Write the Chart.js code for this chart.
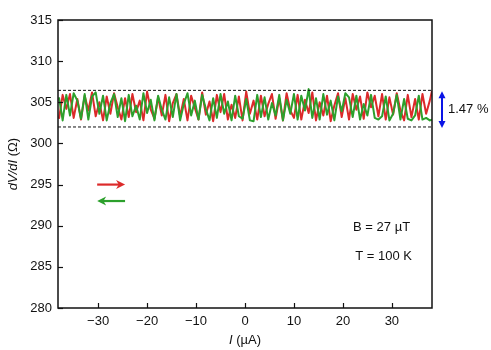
<!DOCTYPE html>
<html>
<head>
<meta charset="utf-8">
<script src="https://cdn.jsdelivr.net/npm/chart.js@4.4.1/dist/chart.umd.min.js"></script>
<style>
  html, body { margin: 0; padding: 0; background: #fff; }
  #wrap { width: 491px; height: 350px; }
</style>
</head>
<body>
<div id="wrap"><canvas id="c" width="491" height="350"></canvas></div>
<script>
// current sweep points (uA)
const current = [
  -38, -37.25, -36.5, -35.75, -35, -34.25, -33.5, -32.75, -32, -31.25,
  -30.5, -29.75, -29, -28.25, -27.5, -26.75, -26, -25.25, -24.5, -23.75,
  -23, -22.25, -21.5, -20.75, -20, -19.25, -18.5, -17.75, -17, -16.25,
  -15.5, -14.75, -14, -13.25, -12.5, -11.75, -11, -10.25, -9.5, -8.75,
  -8, -7.25, -6.5, -5.75, -5, -4.25, -3.5, -2.75, -2, -1.25,
  -0.5, 0.25, 1, 1.75, 2.5, 3.25, 4, 4.75, 5.5, 6.25,
  7, 7.75, 8.5, 9.25, 10, 10.75, 11.5, 12.25, 13, 13.75,
  14.5, 15.25, 16, 16.75, 17.5, 18.25, 19, 19.75, 20.5, 21.25,
  22, 22.75, 23.5, 24.25, 25, 25.75, 26.5, 27.25, 28, 28.75,
  29.5, 30.25, 31, 31.75, 32.5, 33.25, 34, 34.75, 35.5, 36.25,
  37, 37.75, 38.2
];

// dV/dI, sweep up (red)
const forward = [
  303.0, 305.9, 304.2, 306.0, 303.1, 305.4, 302.9, 305.8, 304.0, 306.2,
  303.3, 305.0, 302.8, 305.7, 303.6, 306.1, 304.4, 302.9, 305.5, 303.2,
  306.0, 303.8, 305.2, 302.8, 306.3, 304.1, 303.0, 305.6, 303.4, 305.9,
  302.7, 304.9, 306.0, 303.3, 305.4, 302.8, 305.8, 304.3, 302.9, 306.2,
  303.5, 305.1, 302.7, 305.9, 303.8, 306.0, 302.9, 304.7, 303.1, 305.7,
  302.8, 306.3, 303.6, 305.2, 302.9, 305.8, 303.3, 304.8, 306.0, 303.0,
  305.5, 302.8, 306.1, 304.0, 303.1, 305.9, 302.9, 305.3, 303.7, 306.2,
  302.8, 305.0, 303.4, 305.8, 302.7, 304.6, 306.1, 303.2, 305.5, 302.9,
  306.0, 304.1, 305.7, 303.0, 306.2, 304.4, 305.8, 303.3, 306.0, 302.9,
  305.6, 303.5, 306.1, 304.0, 302.8, 305.9, 303.2, 305.4, 302.9, 306.0,
  303.6, 305.2, 306.4
];

// dV/dI, sweep down (green)
const backward = [
  305.6, 302.8, 305.9, 303.4, 306.1, 305.2, 303.0, 306.0, 302.9, 305.7,
  306.2, 303.6, 305.8, 302.8, 304.9, 306.0, 303.2, 305.5, 302.7, 305.9,
  303.3, 304.6, 302.9, 306.1, 303.7, 305.3, 302.8, 305.8, 304.1, 302.9,
  305.6, 303.2, 306.0, 302.8, 304.8, 306.1, 303.4, 305.2, 302.9, 305.9,
  304.2, 302.8, 305.5, 303.1, 306.0, 303.6, 305.1, 302.8, 305.8, 303.3,
  303.0, 305.4, 302.8, 302.7, 305.9, 303.2, 305.6, 302.9, 304.9, 303.4,
  305.9, 302.8, 305.3, 303.6, 306.0, 302.9, 305.8, 304.0, 306.6, 303.1,
  305.5, 302.9, 306.0, 303.5, 305.2, 302.8, 305.7, 303.9, 306.1, 305.6,
  303.2, 305.8, 302.9, 304.8, 303.4, 305.9, 303.1, 302.9, 303.3, 305.7,
  302.8, 303.6, 305.9, 302.9, 305.4, 303.0, 302.8, 303.4, 305.8, 302.9,
  303.1, 302.8, 302.9
];

const xTicks = [-30, -20, -10, 0, 10, 20, 30];
const yTicks = [280, 285, 290, 295, 300, 305, 310, 315];
const xRange = [-38.2, 38.2];
const yRange = [280, 315];
const bandTop = 306.45;
const bandBottom = 302.0;
const bandLabel = '1.47 %';
const fieldLabel = 'B = 27 \u00b5T';
const tempLabel = 'T = 100 K';

const RED = '#dc2a2a';
const GREEN = '#2ca02c';
const FONT = '"Liberation Sans", Arial, sans-serif';

const pts = ys => ys.map((y, i) => ({ x: current[i], y }));

function arrow(ctx, x1, y1, x2, y2, color, head) {
  const dir = Math.sign(x2 - x1);
  ctx.strokeStyle = color;
  ctx.fillStyle = color;
  ctx.lineWidth = 2.2;
  ctx.beginPath();
  ctx.moveTo(x1, y1);
  ctx.lineTo(x2 - dir * head * 0.6, y2);
  ctx.stroke();
  ctx.beginPath();
  ctx.moveTo(x2, y2);
  ctx.lineTo(x2 - dir * head, y2 - head * 0.5);
  ctx.lineTo(x2 - dir * head * 0.7, y2);
  ctx.lineTo(x2 - dir * head, y2 + head * 0.5);
  ctx.closePath();
  ctx.fill();
}

// frame, ticks, arrows, texts and axis titles
const decor = {
  id: 'decor',
  afterDraw(chart) {
    const ctx = chart.ctx;
    const a = chart.chartArea;
    const xs = chart.scales.x, ys = chart.scales.y;
    ctx.save();

    ctx.strokeStyle = '#111';
    ctx.lineWidth = 1.5;
    ctx.strokeRect(a.left, a.top, a.right - a.left, a.bottom - a.top);

    ctx.lineWidth = 1.2;
    xTicks.forEach(v => {
      const px = Math.round(xs.getPixelForValue(v)) + 0.5;
      ctx.beginPath(); ctx.moveTo(px, a.bottom); ctx.lineTo(px, a.bottom - 5); ctx.stroke();
    });
    yTicks.forEach(v => {
      const py = Math.round(ys.getPixelForValue(v)) + 0.5;
      ctx.beginPath(); ctx.moveTo(a.left, py); ctx.lineTo(a.left + 5, py); ctx.stroke();
    });

    // sweep direction arrows
    arrow(ctx, xs.getPixelForValue(-30.2), ys.getPixelForValue(295),
          xs.getPixelForValue(-24.5), ys.getPixelForValue(295), RED, 9);
    arrow(ctx, xs.getPixelForValue(-24.5), ys.getPixelForValue(293),
          xs.getPixelForValue(-30.2), ys.getPixelForValue(293), GREEN, 9);

    // band size marker
    const bx = a.right + 10;
    const t = ys.getPixelForValue(bandTop) + 1, b = ys.getPixelForValue(bandBottom) + 1;
    ctx.strokeStyle = '#0a14e6'; ctx.fillStyle = '#0a14e6'; ctx.lineWidth = 2;
    ctx.beginPath(); ctx.moveTo(bx, t + 4); ctx.lineTo(bx, b - 4); ctx.stroke();
    ctx.beginPath(); ctx.moveTo(bx, t); ctx.lineTo(bx - 3.5, t + 7); ctx.lineTo(bx + 3.5, t + 7); ctx.closePath(); ctx.fill();
    ctx.beginPath(); ctx.moveTo(bx, b); ctx.lineTo(bx - 3.5, b - 7); ctx.lineTo(bx + 3.5, b - 7); ctx.closePath(); ctx.fill();

    ctx.fillStyle = '#111';
    ctx.font = '13px ' + FONT;
    ctx.textBaseline = 'middle';
    ctx.textAlign = 'left';
    ctx.fillText(bandLabel, bx + 6, (t + b) / 2);

    ctx.textAlign = 'center';
    ctx.fillText(fieldLabel, xs.getPixelForValue(27.9), ys.getPixelForValue(289.8));
    ctx.fillText(tempLabel, xs.getPixelForValue(28.3), ys.getPixelForValue(286.3));

    // x title: I (uA)
    const parts = [['italic 13px ' + FONT, 'I'], ['13px ' + FONT, ' (\u00b5A)']];
    let w = 0;
    parts.forEach(p => { ctx.font = p[0]; w += ctx.measureText(p[1]).width; });
    let x0 = (a.left + a.right) / 2 - w / 2;
    ctx.textAlign = 'left';
    parts.forEach(p => { ctx.font = p[0]; ctx.fillText(p[1], x0, 340); x0 += ctx.measureText(p[1]).width; });

    // y title: dV/dI (Ohm)
    const yparts = [['italic 13px ' + FONT, 'dV/dI'], ['13px ' + FONT, ' (\u03a9)']];
    w = 0;
    yparts.forEach(p => { ctx.font = p[0]; w += ctx.measureText(p[1]).width; });
    ctx.translate(13, (a.top + a.bottom) / 2);
    ctx.rotate(-Math.PI / 2);
    x0 = -w / 2;
    yparts.forEach(p => { ctx.font = p[0]; ctx.fillText(p[1], x0, 0); x0 += ctx.measureText(p[1]).width; });

    ctx.restore();
  }
};

const line = (data, color, order) => ({
  data: pts(data), borderColor: color, borderWidth: 2, borderJoinStyle: 'round',
  pointRadius: 0, tension: 0, order
});

const dashed = y => ({
  data: [{ x: xRange[0], y }, { x: xRange[1], y }],
  borderColor: '#111', borderWidth: 1, borderDash: [3, 2], pointRadius: 0, order: 0
});

new Chart(document.getElementById('c'), {
  type: 'line',
  data: {
    datasets: [
      line(forward, RED, 2),
      line(backward, GREEN, 1),
      dashed(bandTop),
      dashed(bandBottom)
    ]
  },
  options: {
    responsive: false,
    animation: false,
    layout: { padding: { top: 20, right: 59, left: 0, bottom: 0 } },
    plugins: { legend: { display: false }, tooltip: { enabled: false } },
    scales: {
      x: {
        type: 'linear',
        min: xRange[0], max: xRange[1],
        grid: { display: false, drawTicks: false },
        border: { display: false },
        afterBuildTicks: s => { s.ticks = xTicks.map(v => ({ value: v })); },
        afterFit: s => { s.height = 42; },
        ticks: {
          padding: 6,
          color: '#111',
          font: { family: FONT, size: 13 },
          maxRotation: 0,
          callback: v => (v < 0 ? '\u2212' + Math.abs(v) : String(v))
        }
      },
      y: {
        min: yRange[0], max: yRange[1],
        grid: { display: false, drawTicks: false },
        border: { display: false },
        afterBuildTicks: s => { s.ticks = yTicks.map(v => ({ value: v })); },
        afterFit: s => { s.width = 58; },
        ticks: {
          padding: 6,
          color: '#111',
          font: { family: FONT, size: 13 }
        }
      }
    }
  },
  plugins: [decor]
});
</script>
</body>
</html>
